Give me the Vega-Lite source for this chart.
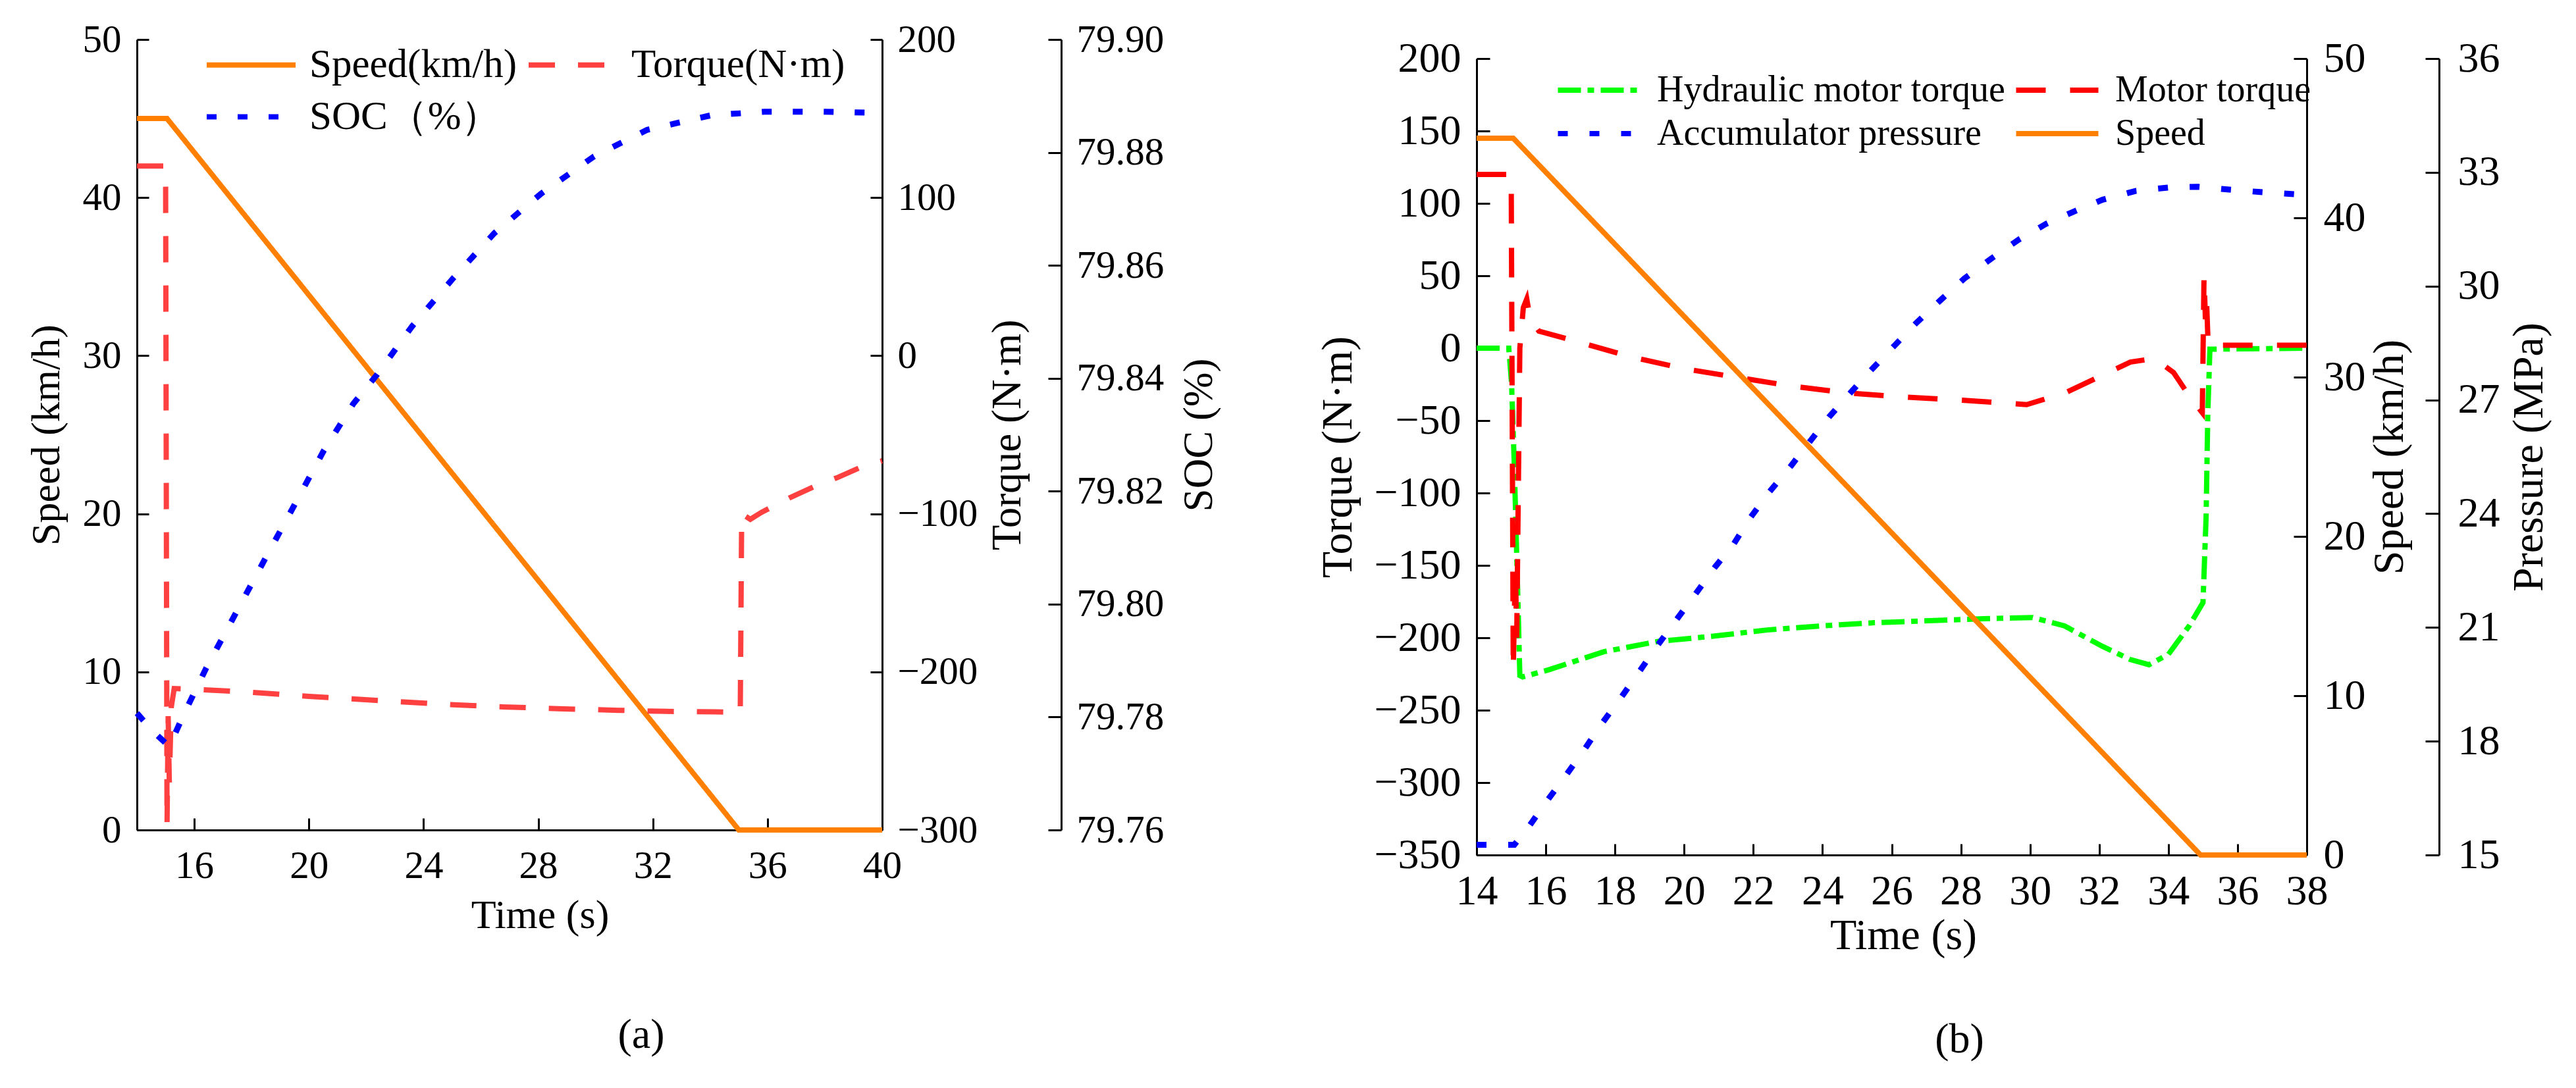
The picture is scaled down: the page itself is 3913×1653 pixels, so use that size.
{
  "$schema": "https://vega.github.io/schema/vega-lite/v6.json",
  "padding": {"left": 39, "top": 31, "right": 5, "bottom": 5},
  "background": "white",
  "config": {
    "view": {"stroke": null},
    "axis": {"labelFont": "Liberation Serif", "titleFont": "Liberation Serif", "titleFontWeight": "normal", "labelColor": "black", "titleColor": "black", "domainColor": "black", "tickColor": "black", "domainWidth": 3, "tickWidth": 3, "grid": false, "labelFlush": false, "labelOverlap": false},
    "title": {"font": "Liberation Serif", "fontWeight": "normal", "color": "black"}
  },
  "datasets": {
    "a": [
      {"s": "Speed(km/h)", "t": 14, "v": 45}, {"s": "Speed(km/h)", "t": 15.05, "v": 45}, {"s": "Speed(km/h)", "t": 35, "v": 0}, {"s": "Speed(km/h)", "t": 40, "v": 0},
      {"s": "Torque(N·m)", "t": 14, "v": 120}, {"s": "Torque(N·m)", "t": 15.0, "v": 120}, {"s": "Torque(N·m)", "t": 15.05, "v": -297}, {"s": "Torque(N·m)", "t": 15.09, "v": -228}, {"s": "Torque(N·m)", "t": 15.13, "v": -270}, {"s": "Torque(N·m)", "t": 15.2, "v": -222}, {"s": "Torque(N·m)", "t": 15.3, "v": -210.5}, {"s": "Torque(N·m)", "t": 16, "v": -211}, {"s": "Torque(N·m)", "t": 17.74, "v": -212.6}, {"s": "Torque(N·m)", "t": 20, "v": -215.5}, {"s": "Torque(N·m)", "t": 22.33, "v": -218}, {"s": "Torque(N·m)", "t": 24.5, "v": -220.3}, {"s": "Torque(N·m)", "t": 26.56, "v": -222}, {"s": "Torque(N·m)", "t": 28.7, "v": -223.3}, {"s": "Torque(N·m)", "t": 30.81, "v": -224.3}, {"s": "Torque(N·m)", "t": 32.5, "v": -225}, {"s": "Torque(N·m)", "t": 34.2, "v": -225.3}, {"s": "Torque(N·m)", "t": 35.05, "v": -225.5}, {"s": "Torque(N·m)", "t": 35.1, "v": -100}, {"s": "Torque(N·m)", "t": 35.4, "v": -103.5}, {"s": "Torque(N·m)", "t": 35.8, "v": -99}, {"s": "Torque(N·m)", "t": 36.76, "v": -90}, {"s": "Torque(N·m)", "t": 37.6, "v": -83}, {"s": "Torque(N·m)", "t": 38.45, "v": -77}, {"s": "Torque(N·m)", "t": 39.2, "v": -71}, {"s": "Torque(N·m)", "t": 40, "v": -66.5},
      {"s": "SOC（%）", "t": 14, "v": 79.7807}, {"s": "SOC（%）", "t": 14.57, "v": 79.7774}, {"s": "SOC（%）", "t": 15.13, "v": 79.7748}, {"s": "SOC（%）", "t": 15.6, "v": 79.7801}, {"s": "SOC（%）", "t": 16.42, "v": 79.7887}, {"s": "SOC（%）", "t": 17.44, "v": 79.7983}, {"s": "SOC（%）", "t": 18.47, "v": 79.808}, {"s": "SOC（%）", "t": 19.5, "v": 79.8176}, {"s": "SOC（%）", "t": 20.52, "v": 79.8272}, {"s": "SOC（%）", "t": 21.55, "v": 79.8355}, {"s": "SOC（%）", "t": 22.37, "v": 79.8406}, {"s": "SOC（%）", "t": 23.6, "v": 79.8492}, {"s": "SOC（%）", "t": 25.03, "v": 79.8577}, {"s": "SOC（%）", "t": 26.47, "v": 79.8657}, {"s": "SOC（%）", "t": 28.1, "v": 79.8727}, {"s": "SOC（%）", "t": 29.95, "v": 79.8793}, {"s": "SOC（%）", "t": 31.8, "v": 79.884}, {"s": "SOC（%）", "t": 34.05, "v": 79.8866}, {"s": "SOC（%）", "t": 35.9, "v": 79.8872}, {"s": "SOC（%）", "t": 37.95, "v": 79.8872}, {"s": "SOC（%）", "t": 40, "v": 79.887}
    ],
    "b": [
      {"s": "Hydraulic motor torque", "t": 14, "v": 0}, {"s": "Hydraulic motor torque", "t": 14.93, "v": 0}, {"s": "Hydraulic motor torque", "t": 15.01, "v": -24}, {"s": "Hydraulic motor torque", "t": 15.09, "v": -81}, {"s": "Hydraulic motor torque", "t": 15.17, "v": -152}, {"s": "Hydraulic motor torque", "t": 15.25, "v": -226}, {"s": "Hydraulic motor torque", "t": 15.33, "v": -227}, {"s": "Hydraulic motor torque", "t": 16.1, "v": -222}, {"s": "Hydraulic motor torque", "t": 17.68, "v": -209.6}, {"s": "Hydraulic motor torque", "t": 19.25, "v": -202.5}, {"s": "Hydraulic motor torque", "t": 20.8, "v": -199}, {"s": "Hydraulic motor torque", "t": 22.4, "v": -194.6}, {"s": "Hydraulic motor torque", "t": 23.95, "v": -191.8}, {"s": "Hydraulic motor torque", "t": 25.5, "v": -189.6}, {"s": "Hydraulic motor torque", "t": 27.1, "v": -188.2}, {"s": "Hydraulic motor torque", "t": 28.66, "v": -186.8}, {"s": "Hydraulic motor torque", "t": 30.07, "v": -186}, {"s": "Hydraulic motor torque", "t": 31.0, "v": -191.8}, {"s": "Hydraulic motor torque", "t": 32.1, "v": -206}, {"s": "Hydraulic motor torque", "t": 32.9, "v": -215}, {"s": "Hydraulic motor torque", "t": 33.44, "v": -218.6}, {"s": "Hydraulic motor torque", "t": 34.0, "v": -211.4}, {"s": "Hydraulic motor torque", "t": 34.6, "v": -191.8}, {"s": "Hydraulic motor torque", "t": 35.0, "v": -175.7}, {"s": "Hydraulic motor torque", "t": 35.09, "v": -116.8}, {"s": "Hydraulic motor torque", "t": 35.14, "v": -45}, {"s": "Hydraulic motor torque", "t": 35.2, "v": -0.7}, {"s": "Hydraulic motor torque", "t": 38, "v": 0},
      {"s": "Motor torque", "t": 14, "v": 120}, {"s": "Motor torque", "t": 15.0, "v": 120}, {"s": "Motor torque", "t": 15.06, "v": -222}, {"s": "Motor torque", "t": 15.12, "v": -150}, {"s": "Motor torque", "t": 15.16, "v": -200}, {"s": "Motor torque", "t": 15.25, "v": 0}, {"s": "Motor torque", "t": 15.35, "v": 28}, {"s": "Motor torque", "t": 15.45, "v": 34}, {"s": "Motor torque", "t": 15.55, "v": 20}, {"s": "Motor torque", "t": 15.8, "v": 11.8}, {"s": "Motor torque", "t": 16.9, "v": 4.6}, {"s": "Motor torque", "t": 18.46, "v": -6}, {"s": "Motor torque", "t": 20.03, "v": -14.3}, {"s": "Motor torque", "t": 21.6, "v": -20.4}, {"s": "Motor torque", "t": 23.17, "v": -26.4}, {"s": "Motor torque", "t": 24.74, "v": -31}, {"s": "Motor torque", "t": 26.3, "v": -33.6}, {"s": "Motor torque", "t": 27.87, "v": -35.7}, {"s": "Motor torque", "t": 29.44, "v": -38.2}, {"s": "Motor torque", "t": 29.9, "v": -39}, {"s": "Motor torque", "t": 31.0, "v": -31}, {"s": "Motor torque", "t": 32.1, "v": -18.6}, {"s": "Motor torque", "t": 32.9, "v": -9.6}, {"s": "Motor torque", "t": 33.6, "v": -7.1}, {"s": "Motor torque", "t": 34.15, "v": -16.8}, {"s": "Motor torque", "t": 34.6, "v": -32.9}, {"s": "Motor torque", "t": 34.98, "v": -44.6}, {"s": "Motor torque", "t": 35.03, "v": 50}, {"s": "Motor torque", "t": 35.07, "v": 20}, {"s": "Motor torque", "t": 35.1, "v": 35}, {"s": "Motor torque", "t": 35.15, "v": 2}, {"s": "Motor torque", "t": 38, "v": 2},
      {"s": "Accumulator pressure", "t": 14, "v": 15.27}, {"s": "Accumulator pressure", "t": 15.09, "v": 15.27}, {"s": "Accumulator pressure", "t": 15.48, "v": 15.71}, {"s": "Accumulator pressure", "t": 15.95, "v": 16.32}, {"s": "Accumulator pressure", "t": 16.5, "v": 17.0}, {"s": "Accumulator pressure", "t": 17.05, "v": 17.69}, {"s": "Accumulator pressure", "t": 17.6, "v": 18.44}, {"s": "Accumulator pressure", "t": 18.15, "v": 19.12}, {"s": "Accumulator pressure", "t": 18.7, "v": 19.83}, {"s": "Accumulator pressure", "t": 19.25, "v": 20.55}, {"s": "Accumulator pressure", "t": 19.8, "v": 21.23}, {"s": "Accumulator pressure", "t": 20.35, "v": 21.91}, {"s": "Accumulator pressure", "t": 20.9, "v": 22.6}, {"s": "Accumulator pressure", "t": 21.44, "v": 23.21}, {"s": "Accumulator pressure", "t": 21.91, "v": 23.89}, {"s": "Accumulator pressure", "t": 22.46, "v": 24.57}, {"s": "Accumulator pressure", "t": 23.09, "v": 25.26}, {"s": "Accumulator pressure", "t": 23.64, "v": 25.91}, {"s": "Accumulator pressure", "t": 24.19, "v": 26.55}, {"s": "Accumulator pressure", "t": 24.82, "v": 27.2}, {"s": "Accumulator pressure", "t": 25.44, "v": 27.82}, {"s": "Accumulator pressure", "t": 26.07, "v": 28.42}, {"s": "Accumulator pressure", "t": 26.7, "v": 29.02}, {"s": "Accumulator pressure", "t": 27.4, "v": 29.62}, {"s": "Accumulator pressure", "t": 28.1, "v": 30.2}, {"s": "Accumulator pressure", "t": 28.9, "v": 30.74}, {"s": "Accumulator pressure", "t": 29.68, "v": 31.23}, {"s": "Accumulator pressure", "t": 30.46, "v": 31.64}, {"s": "Accumulator pressure", "t": 31.25, "v": 31.96}, {"s": "Accumulator pressure", "t": 32.1, "v": 32.28}, {"s": "Accumulator pressure", "t": 33.05, "v": 32.51}, {"s": "Accumulator pressure", "t": 34.0, "v": 32.6}, {"s": "Accumulator pressure", "t": 34.85, "v": 32.62}, {"s": "Accumulator pressure", "t": 35.7, "v": 32.55}, {"s": "Accumulator pressure", "t": 36.66, "v": 32.48}, {"s": "Accumulator pressure", "t": 37.9, "v": 32.41}, {"s": "Accumulator pressure", "t": 38, "v": 32.4},
      {"s": "Speed", "t": 14, "v": 45}, {"s": "Speed", "t": 15.06, "v": 45}, {"s": "Speed", "t": 34.93, "v": 0}, {"s": "Speed", "t": 38, "v": 0}
    ]
  },
  "bounds": "flush",
  "spacing": 903,
  "resolve": {"scale": {"color": "independent", "strokeDash": "independent"}, "legend": {"color": "independent", "strokeDash": "independent"}},
  "hconcat": [
    {
      "width": 1132,
      "height": 1201,
      "data": {"name": "a"},
      "title": {"text": "(a)", "orient": "bottom", "fontSize": 64, "offset": 120, "dx": 200},
      "encoding": {
        "x": {"field": "t", "type": "quantitative", "scale": {"domain": [14, 40], "nice": false, "zero": false},
          "axis": {"values": [16, 20, 24, 28, 32, 36, 40], "title": "Time (s)", "titleX": 612, "tickSize": -18, "labelPadding": 43, "titlePadding": 15, "labelFontSize": 59, "titleFontSize": 62}},
        "color": {"field": "s", "type": "nominal", "scale": {"domain": ["Speed(km/h)", "Torque(N·m)", "SOC（%）"], "range": ["#FF8000", "#FF4040", "#0000FF"]},
          "legend": {"orient": "none", "legendX": 125, "legendY": -10, "direction": "horizontal", "columns": 2, "symbolType": "M-1.517,0H1.517", "symbolSize": 7921, "symbolStrokeWidth": 8, "labelFont": "Liberation Serif", "labelFontSize": 61, "labelColor": "black", "labelOffset": 40, "labelLimit": 2000, "columnPadding": 0, "rowPadding": 0, "title": null, "padding": 0}},
        "strokeDash": {"field": "s", "type": "nominal", "scale": {"domain": ["Speed(km/h)", "Torque(N·m)", "SOC（%）"], "range": [[1, 0], [40, 35], [15, 32]]},
          "legend": {"orient": "none", "legendX": 125, "legendY": -10, "direction": "horizontal", "columns": 2, "symbolType": "M-1.517,0H1.517", "symbolSize": 7921, "symbolStrokeWidth": 8, "labelFont": "Liberation Serif", "labelFontSize": 61, "labelColor": "black", "labelOffset": 40, "labelLimit": 2000, "columnPadding": 0, "rowPadding": 0, "title": null, "padding": 0}}
      },
      "layer": [
        {
          "transform": [{"filter": "datum.s === 'Speed(km/h)'"}],
          "mark": {"type": "line", "strokeWidth": 8},
          "encoding": {"y": {"field": "v", "type": "quantitative", "scale": {"domain": [0, 50], "nice": false, "zero": false},
            "axis": {"orient": "left", "values": [0, 10, 20, 30, 40, 50], "title": "Speed (km/h)", "tickSize": -18, "labelPadding": 42, "titlePadding": 23, "labelFontSize": 59, "titleFontSize": 62}}}
        },
        {
          "transform": [{"filter": "datum.s === 'Torque(N·m)'"}],
          "mark": {"type": "line", "strokeWidth": 8},
          "encoding": {"y": {"field": "v", "type": "quantitative", "scale": {"domain": [-300, 200], "nice": false, "zero": false},
            "axis": {"orient": "right", "values": [-300, -200, -100, 0, 100, 200], "title": "Torque (N·m)", "titleAngle": 270, "titleBaseline": "top", "tickSize": -18, "labelPadding": 41, "titlePadding": 15, "labelFontSize": 59, "titleFontSize": 63}}}
        },
        {
          "transform": [{"filter": "datum.s === 'SOC（%）'"}],
          "mark": {"type": "line", "strokeWidth": 9},
          "encoding": {"y": {"field": "v", "type": "quantitative", "scale": {"domain": [79.76, 79.9], "nice": false, "zero": false},
            "axis": {"orient": "right", "offset": 272, "values": [79.76, 79.78, 79.8, 79.82, 79.84, 79.86, 79.88, 79.9], "format": ".2f", "title": "SOC (%)", "titleAngle": 270, "titleBaseline": "top", "tickSize": -20, "labelPadding": 43, "titlePadding": 23, "labelFontSize": 59, "titleFontSize": 63}}}
        }
      ],
      "resolve": {"scale": {"y": "independent"}}
    },
    {
      "width": 1261,
      "height": 1239,
      "data": {"name": "b"},
      "title": {"text": "(b)", "orient": "bottom", "fontSize": 64, "offset": 94, "dx": 103},
      "encoding": {
        "x": {"field": "t", "type": "quantitative", "scale": {"domain": [14, 38], "nice": false, "zero": false},
          "axis": {"values": [14, 16, 18, 20, 22, 24, 26, 28, 30, 32, 34, 36, 38], "title": "Time (s)", "titleX": 648, "tickSize": -17, "labelPadding": 40, "titlePadding": 3, "labelFontSize": 64, "titleFontSize": 66}},
        "color": {"field": "s", "type": "nominal", "scale": {"domain": ["Hydraulic motor torque", "Motor torque", "Accumulator pressure", "Speed"], "range": ["#00FF00", "#FF0000", "#0000FF", "#FF8000"]},
          "legend": {"orient": "none", "legendX": 158, "legendY": 49, "direction": "horizontal", "columns": 2, "symbolType": "M-31.25,0H31.25", "symbolSize": 16, "symbolStrokeWidth": 8, "labelFont": "Liberation Serif", "labelFontSize": 56, "labelColor": "black", "labelOffset": 60, "labelLimit": 2000, "columnPadding": 0, "rowPadding": 10, "title": null, "padding": 0}},
        "strokeDash": {"field": "s", "type": "nominal", "scale": {"domain": ["Hydraulic motor torque", "Motor torque", "Accumulator pressure", "Speed"], "range": [[35, 10, 10, 10], [45, 37], [15, 33], [1, 0]]},
          "legend": {"orient": "none", "legendX": 158, "legendY": 49, "direction": "horizontal", "columns": 2, "symbolType": "M-31.25,0H31.25", "symbolSize": 16, "symbolStrokeWidth": 8, "labelFont": "Liberation Serif", "labelFontSize": 56, "labelColor": "black", "labelOffset": 60, "labelLimit": 2000, "columnPadding": 0, "rowPadding": 10, "title": null, "padding": 0}}
      },
      "layer": [
        {
          "transform": [{"filter": "datum.s === 'Hydraulic motor torque' || datum.s === 'Motor torque'"}],
          "mark": {"type": "line", "strokeWidth": 8},
          "encoding": {"y": {"field": "v", "type": "quantitative", "scale": {"domain": [-350, 200], "nice": false, "zero": false, "range": [1239, 29]},
            "axis": {"orient": "left", "values": [-350, -300, -250, -200, -150, -100, -50, 0, 50, 100, 150, 200], "title": "Torque (N·m)", "tickSize": -20, "labelPadding": 44, "titlePadding": 20, "labelFontSize": 64, "titleFontSize": 66}}}
        },
        {
          "transform": [{"filter": "datum.s === 'Accumulator pressure'"}],
          "mark": {"type": "line", "strokeWidth": 9},
          "encoding": {"y": {"field": "v", "type": "quantitative", "scale": {"domain": [15, 36], "nice": false, "zero": false, "range": [1239, 29]},
            "axis": {"orient": "right", "offset": 201, "values": [15, 18, 21, 24, 27, 30, 33, 36], "title": "Pressure (MPa)", "titleAngle": 270, "titleBaseline": "top", "tickSize": -21, "labelPadding": 49, "titlePadding": 12, "labelFontSize": 64, "titleFontSize": 66}}}
        },
        {
          "transform": [{"filter": "datum.s === 'Speed'"}],
          "mark": {"type": "line", "strokeWidth": 8},
          "encoding": {"y": {"field": "v", "type": "quantitative", "scale": {"domain": [0, 50], "nice": false, "zero": false, "range": [1239, 29]},
            "axis": {"orient": "right", "values": [0, 10, 20, 30, 40, 50], "title": "Speed (km/h)", "titleAngle": 270, "titleBaseline": "top", "tickSize": -20, "labelPadding": 45, "titlePadding": 4, "labelFontSize": 64, "titleFontSize": 66}}}
        }
      ],
      "resolve": {"scale": {"y": "independent"}}
    }
  ]
}
